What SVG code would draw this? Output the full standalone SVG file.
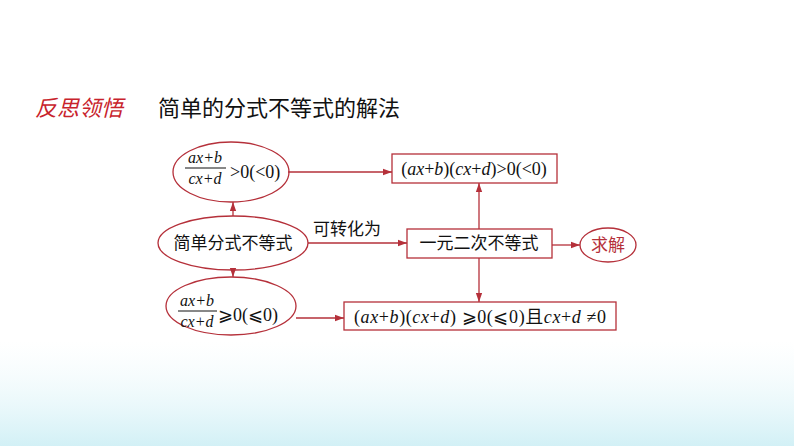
<svg xmlns="http://www.w3.org/2000/svg" width="794" height="446" viewBox="0 0 794 446">
<defs>
<marker id="ah" viewBox="0 0 10 10" refX="10" refY="5" markerWidth="7" markerHeight="7" orient="auto"><path d="M0,1.5L10,5L0,8.5z" fill="#b5303a"/></marker>
<linearGradient id="bg" x1="0" y1="0" x2="0" y2="1"><stop offset="0" stop-color="#e6f7fa" stop-opacity="0"/><stop offset="1" stop-color="#bfeaf2" stop-opacity="0.7"/></linearGradient>
<style>
.s{fill:none;stroke:#b5303a;stroke-width:1.3}
.c{stroke:#b5303a;stroke-width:1.3;fill:none;marker-end:url(#ah)}
.t{font-family:"Noto Sans CJK SC",sans-serif;font-size:17px;fill:#111}
.m{font-family:"Liberation Serif","Noto Sans CJK SC",serif;font-size:18px;fill:#111}
.f{font-family:"Liberation Serif",serif;font-size:16px;fill:#111;font-style:italic}
.i{font-style:italic}
</style>
</defs>
<rect width="794" height="446" fill="#fff"/>
<rect y="340" width="794" height="106" fill="url(#bg)"/>
<text x="35" y="116" font-family="Noto Sans CJK SC,sans-serif" font-size="22" font-style="italic" fill="#c8232c">反思领悟</text>
<text x="158" y="116" font-family="Noto Sans CJK SC,sans-serif" font-size="22" fill="#111">简单的分式不等式的解法</text>
<g id="connectors">
<line class="c" x1="288" y1="172" x2="392" y2="172"/>
<line class="c" x1="233" y1="216" x2="233" y2="202"/>
<line class="c" x1="233" y1="270" x2="233" y2="277"/>
<line class="c" x1="308" y1="243" x2="407" y2="243"/>
<line class="c" x1="479" y1="229" x2="479" y2="183"/>
<line class="c" x1="479" y1="258" x2="479" y2="302"/>
<line class="c" x1="552" y1="245" x2="580" y2="245"/>
<line class="c" x1="296" y1="318" x2="344" y2="318"/>
<text class="t" x="313" y="235">可转化为</text>
</g>
<g id="n1"><ellipse class="s" cx="231" cy="172" rx="58" ry="30"/>
<text class="f" x="205" y="163" text-anchor="middle">ax+b</text>
<line x1="185" y1="168" x2="226" y2="168" stroke="#111" stroke-width="1"/>
<text class="f" x="205" y="184" text-anchor="middle">cx+d</text>
<text class="m" x="230" y="178">&gt;0(&lt;0)</text></g>
<g id="n2"><ellipse class="s" cx="233" cy="243" rx="75" ry="27"/><text class="t" x="233" y="249" text-anchor="middle">简单分式不等式</text></g>
<g id="n3"><ellipse class="s" cx="231" cy="306" rx="65" ry="29"/>
<text class="f" x="197" y="306" text-anchor="middle">ax+b</text>
<line x1="178" y1="311" x2="217" y2="311" stroke="#111" stroke-width="1"/>
<text class="f" x="197" y="327" text-anchor="middle">cx+d</text>
<text class="m" x="218" y="321">⩾0(⩽0)</text></g>
<g id="b1"><rect class="s" x="392" y="154" width="165" height="29"/><text class="m" x="474" y="175" text-anchor="middle">(<tspan class="i">ax</tspan>+<tspan class="i">b</tspan>)(<tspan class="i">cx</tspan>+<tspan class="i">d</tspan>)&gt;0(&lt;0)</text></g>
<g id="b2"><rect class="s" x="407" y="229" width="145" height="29"/><text class="t" x="479" y="249" text-anchor="middle">一元二次不等式</text></g>
<g id="b3"><ellipse class="s" cx="608" cy="245" rx="28" ry="17"/><text class="t" x="608" y="251" text-anchor="middle" style="fill:#b5303a">求解</text></g>
<g id="b4"><rect class="s" x="344" y="302" width="272" height="28"/><text class="m" x="480" y="323" text-anchor="middle" textLength="252">(<tspan class="i">ax</tspan>+<tspan class="i">b</tspan>)(<tspan class="i">cx</tspan>+<tspan class="i">d</tspan>) ⩾0(⩽0)且<tspan class="i">cx</tspan>+<tspan class="i">d</tspan> ≠0</text></g>
</svg>
